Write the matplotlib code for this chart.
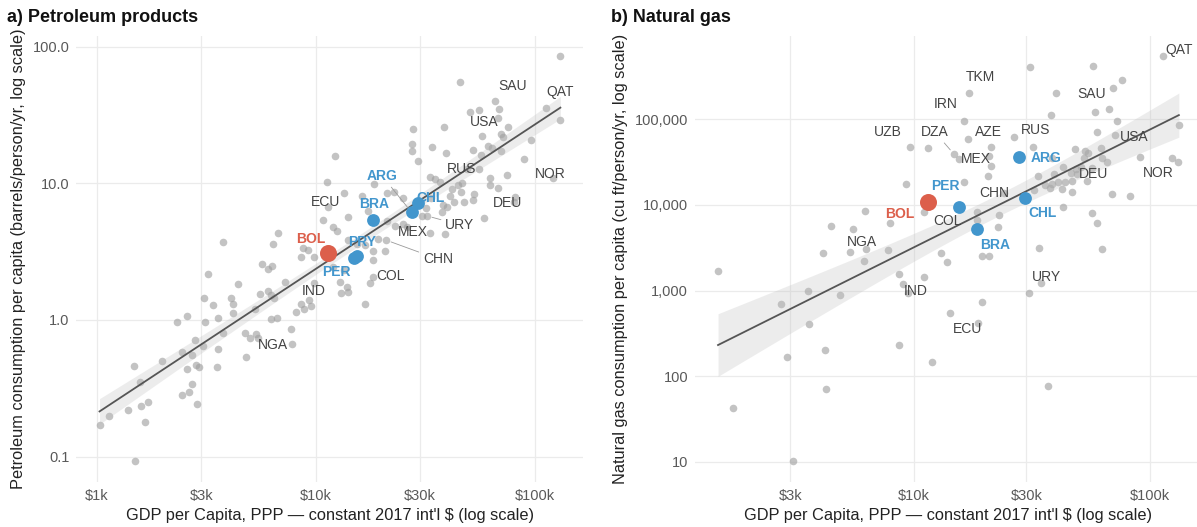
import numpy as np
import matplotlib.pyplot as plt
from matplotlib.ticker import FixedLocator, FixedFormatter, NullLocator

plt.rcParams['font.family'] = ['Liberation Sans', 'DejaVu Sans']

# ---------------- a) Petroleum products ----------------
# GDP per capita in $k (PPP, constant 2017 int'l $), consumption in barrels/person/yr
petro_gdp_k = [
    1.03, 1.14, 1.39, 1.49, 1.48, 1.58, 1.59, 1.71, 1.66, 1.98, 2.32, 2.58, 2.46, 2.59,
    2.72, 2.64, 2.44, 2.88, 2.73, 2.81, 2.84, 2.94, 3.07, 3.12, 3.10, 3.21, 3.39, 3.57,
    3.57, 3.54, 3.79, 3.79, 4.10, 4.21, 4.18, 4.43, 4.76, 4.82, 5.01, 5.34, 5.28, 5.59,
    5.70, 6.04, 6.30, 6.08, 6.25, 6.43, 6.23, 6.68, 6.75, 6.40, 7.24, 7.71, 7.82, 8.10,
    8.57, 8.87, 9.32, 9.52, 8.57, 8.78, 9.19, 9.85, 11.4, 12.0, 12.5, 12.0, 13.4, 12.9,
    13.9, 13.1, 14.0, 12.3, 11.3, 13.4, 14.1, 14.1, 15.4, 16.8, 16.2, 17.4, 18.5, 19.3,
    18.3, 20.7, 18.3, 17.7, 16.8, 21.1, 22.8, 21.1, 23.0, 25.1, 26.0, 25.0, 27.8, 27.5,
    27.5, 29.4, 30.5, 31.9, 33.3, 35.1, 36.9, 33.9, 33.5, 38.4, 39.2, 38.2, 39.7, 37.9,
    38.9, 41.0, 41.8, 42.9, 44.5, 46.4, 46.1, 47.6, 45.7, 49.1, 50.5, 52.1, 53.0, 52.3,
    55.7, 56.7, 57.3, 58.9, 61.0, 62.5, 62.5, 64.0, 67.8, 68.2, 68.9, 70.2, 71.9, 75.0,
    75.3, 80.7, 89.4, 96.2, 131, 130,
]
petro_use = [
    0.170, 0.199, 0.219, 0.0923, 0.460, 0.349, 0.236, 0.252, 0.179, 0.500, 0.960, 1.07, 0.582, 0.435,
    0.338, 0.298, 0.282, 0.243, 0.551, 0.710, 0.468, 0.452, 0.644, 0.970, 1.45, 2.17, 1.29, 1.04,
    0.610, 0.452, 0.806, 3.72, 1.45, 1.32, 1.12, 1.83, 0.798, 0.532, 0.733, 0.789, 1.20, 1.55,
    2.55, 2.36, 2.49, 1.63, 1.52, 1.45, 1.02, 1.03, 4.31, 3.59, 1.89, 0.853, 0.669, 1.15,
    1.32, 1.20, 1.40, 1.27, 2.90, 3.34, 3.28, 2.87, 6.74, 4.76, 4.50, 2.45, 2.32, 1.90,
    1.75, 1.57, 1.61, 16.0, 10.2, 8.49, 5.69, 3.85, 3.59, 3.53, 8.11, 6.27, 9.88, 3.89,
    3.21, 3.21, 2.75, 1.85, 1.31, 8.45, 8.59, 5.32, 4.89, 5.04, 4.81, 7.77, 25.1, 19.3,
    17.4, 14.6, 5.79, 6.63, 11.1, 10.8, 10.3, 18.4, 7.80, 26.0, 16.6, 6.94, 6.67, 6.20,
    4.23, 8.07, 9.08, 7.33, 9.72, 10.0, 8.68, 7.33, 54.9, 12.7, 33.3, 7.54, 8.31, 17.7,
    34.4, 16.1, 22.3, 5.54, 18.8, 10.9, 9.72, 18.3, 9.19, 29.9, 34.8, 17.3, 21.7, 11.6,
    26.0, 7.26, 15.0, 20.8, 85.9, 28.9,
]

# labelled countries (grey)
petro_lab_codes = ['SAU', 'QAT', 'USA', 'RUS', 'NOR', 'DEU', 'URY', 'MEX', 'CHN', 'COL', 'IND', 'NGA', 'ECU']
petro_lab_gdp_k = [65.9, 113, 69.9, 55.9, 121, 81.3, 32.1, 33.3, 20.9, 18.3, 9.85, 5.47, 10.8]
petro_lab_use = [40.0, 35.8, 23.0, 12.7, 10.9, 7.98, 5.79, 4.35, 3.85, 2.05, 1.85, 0.733, 5.39]

# highlighted South American countries
petro_hi_codes = ['BOL', 'ARG', 'BRA', 'CHL', 'PRY', 'PER']
petro_hi_gdp_k = [11.4, 27.4, 18.3, 29.4, 15.4, 15.0]
petro_hi_use = [3.11, 6.14, 5.39, 7.21, 2.96, 2.82]

# ---------------- b) Natural gas ----------------
# GDP per capita in $k, consumption in cu ft/person/yr
gas_gdp_k = [
    1.48, 1.72, 2.75, 2.90, 3.08, 3.57, 3.60, 4.13, 4.21, 4.23, 4.46, 4.85, 5.35, 5.53,
    6.14, 6.20, 7.76, 7.91, 8.64, 8.70, 8.96, 9.29, 11.1, 11.5, 12.0, 13.0, 13.9, 14.2,
    16.4, 17.0, 18.6, 18.6, 19.4, 20.8, 19.4, 20.7, 20.8, 21.2, 22.8, 22.9, 30.9, 31.0,
    32.1, 32.3, 33.6, 33.9, 35.9, 37.2, 37.8, 38.3, 38.4, 38.7, 39.5, 39.9, 41.0, 42.3,
    43.1, 43.1, 43.7, 46.2, 47.0, 47.0, 48.2, 48.5, 49.4, 51.0, 52.6, 53.1, 54.0, 54.9,
    57.1, 57.7, 58.4, 60.0, 60.0, 62.4, 63.0, 63.0, 65.7, 67.2, 69.5, 72.4, 76.6, 82.5,
    90.7, 132, 133,
]
gas_use = [
    1700, 42, 690, 166, 10.1, 1000, 406, 2760, 200, 70, 5720, 879, 2840, 5190,
    2230, 8420, 2970, 6100, 1560, 233, 1180, 17400, 1430, 46200, 145, 2720, 2140, 541,
    18700, 58900, 8330, 6660, 2530, 2530, 734, 21900, 37300, 28500, 5470, 7620, 943, 405000,
    47100, 14900, 21900, 3140, 17100, 76.6, 15900, 112000, 35600, 17600, 23000, 204000, 18400, 15300,
    27900, 9530, 18700, 23800, 19200, 14000, 45000, 26100, 23000, 27500, 35000, 42600, 19000, 40100,
    8110, 420000, 121000, 70500, 6200, 45800, 35000, 3050, 32000, 132000, 13400, 96300, 288000, 12700,
    36000, 32000, 85100,
]

gas_lab_codes = ['QAT', 'TKM', 'IRN', 'SAU', 'UZB', 'DZA', 'AZE', 'RUS', 'MEX', 'USA', 'NOR', 'DEU',
                 'CHN', 'COL', 'NGA', 'IND', 'URY', 'ECU']
gas_lab_gdp_k = [114, 17.1, 16.4, 70.2, 9.62, 14.8, 21.2, 26.6, 15.5, 71.1, 124, 56.7,
                 24.1, 11.1, 6.28, 9.47, 34.5, 18.8]
gas_lab_use = [553000, 204000, 96300, 234000, 47900, 39300, 47900, 62600, 34400, 65600, 35600, 26800,
               13700, 8200, 3050, 943, 1210, 414]

gas_hi_codes = ['BOL', 'PER', 'ARG', 'CHL', 'BRA']
gas_hi_gdp_k = [11.5, 15.5, 27.9, 29.6, 18.6]
gas_hi_use = [10900, 9530, 36000, 11900, 5230]

# label offsets from their point, in pixels (x right, y up)
petro_offsets = {
    'SAU': (18, 15), 'QAT': (14, 16), 'USA': (-16, 12), 'RUS': (-18, 0), 'NOR': (-3, 4),
    'DEU': (-7, -6), 'URY': (33, -9), 'MEX': (-17, 1), 'CHN': (52, -19), 'COL': (17, 1),
    'IND': (-1, -8), 'NGA': (15, -7), 'ECU': (3, 18), 'BOL': (-17, 14), 'ARG': (-29, 36),
    'BRA': (1, 16), 'CHL': (12, 5), 'PRY': (5, 14), 'PER': (-18, -14),
}
gas_offsets = {
    'QAT': (16, 6), 'TKM': (12, 16), 'IRN': (-19, 17), 'SAU': (-22, -6), 'UZB': (-22, 15),
    'DZA': (-19, 22), 'AZE': (-2, 15), 'RUS': (22, 7), 'MEX': (17, 0), 'USA': (19, -2),
    'NOR': (-13, -15), 'DEU': (2, -6), 'CHN': (-10, 0), 'COL': (23, -9), 'NGA': (-4, 7),
    'IND': (8, 2), 'URY': (6, 6), 'ECU': (-11, -6), 'BOL': (-28, -12), 'PER': (-13, 21),
    'ARG': (27, -1), 'CHL': (18, -15), 'BRA': (18, -16),
}
petro_leaders = ['ARG', 'URY', 'CHN']
gas_leaders = ['DZA']

BLUE = '#4296cd'
RED = '#dc5f4b'
hi_colors = {'BOL': RED}


def draw_panel(ax, gdp_k, vals, lab_codes, lab_gdp_k, lab_vals, hi_codes, hi_gdp_k, hi_vals,
               offsets, leaders, yticks, ylabels, ylabel, title, title_x):
    gx = np.array(gdp_k + lab_gdp_k + hi_gdp_k) * 1000
    gy = np.array(vals + lab_vals + hi_vals, dtype=float)
    lx, ly = np.log10(gx), np.log10(gy)

    ax.set_xscale('log')
    ax.set_yscale('log')

    # limits with 5% padding in log space
    xr, yr = lx.max() - lx.min(), ly.max() - ly.min()
    ax.set_xlim(10 ** (lx.min() - 0.05 * xr), 10 ** (lx.max() + 0.05 * xr))
    ax.set_ylim(10 ** (ly.min() - 0.05 * yr), 10 ** (ly.max() + 0.05 * yr))

    # all non-highlighted countries
    ox = np.array(gdp_k + lab_gdp_k) * 1000
    oy = np.array(vals + lab_vals, dtype=float)
    ax.scatter(ox, oy, s=30, color='#9e9e9e', alpha=0.62, linewidths=0, zorder=2)

    # log-log linear fit with 95% band
    n = len(lx)
    slope, icpt = np.polyfit(lx, ly, 1)
    resid = ly - (slope * lx + icpt)
    s = np.sqrt(np.sum(resid ** 2) / (n - 2))
    xm = lx.mean()
    sxx = np.sum((lx - xm) ** 2)
    xs = np.linspace(lx.min(), lx.max(), 200)
    fit = slope * xs + icpt
    se = s * np.sqrt(1.0 / n + (xs - xm) ** 2 / sxx)
    ax.fill_between(10 ** xs, 10 ** (fit - 1.98 * se), 10 ** (fit + 1.98 * se),
                    color='#bdbdbd', alpha=0.28, linewidth=0, zorder=3)
    ax.plot(10 ** xs, 10 ** fit, color='#555555', lw=1.3, zorder=4)

    # highlighted countries
    for c, x, y in zip(hi_codes, hi_gdp_k, hi_vals):
        col = hi_colors.get(c, BLUE)
        size = 150 if c == 'BOL' else 85
        ax.scatter([x * 1000], [y], s=size, color=col, linewidths=0, zorder=6)

    # country labels
    for c, x, y in zip(lab_codes + hi_codes, lab_gdp_k + hi_gdp_k, lab_vals + hi_vals):
        dx, dy = offsets[c]
        if c in hi_codes:
            col = hi_colors.get(c, BLUE)
            weight = 'bold'
        else:
            col = '#444444'
            weight = 'normal'
        arrow = None
        if c in leaders:
            arrow = dict(arrowstyle='-', color='#9a9a9a', lw=0.6, shrinkA=1, shrinkB=4)
        ax.annotate(c, (x * 1000, y), xytext=(dx, dy), textcoords='offset pixels',
                    ha='center', va='center', fontsize=10, color=col, fontweight=weight,
                    arrowprops=arrow, zorder=7)

    # axes styling
    xt = [1000, 3000, 10000, 30000, 100000]
    ax.xaxis.set_major_locator(FixedLocator(xt))
    ax.xaxis.set_major_formatter(FixedFormatter(['$1k', '$3k', '$10k', '$30k', '$100k']))
    ax.yaxis.set_major_locator(FixedLocator(yticks))
    ax.yaxis.set_major_formatter(FixedFormatter(ylabels))
    ax.xaxis.set_minor_locator(NullLocator())
    ax.yaxis.set_minor_locator(NullLocator())
    ax.grid(True, which='major', color='#ebebeb', lw=0.9)
    ax.set_axisbelow(True)
    for sp in ax.spines.values():
        sp.set_visible(False)
    ax.tick_params(length=0, labelsize=10.5, labelcolor='#595959', pad=5)
    ax.set_xlabel("GDP per Capita, PPP \u2014 constant 2017 int'l $ (log scale)",
                  fontsize=11.8, color='#222222', labelpad=4)
    ax.set_ylabel(ylabel, fontsize=11.8, color='#222222', labelpad=5)
    ax.set_title(title, loc='left', fontsize=13, fontweight='bold', color='#111111',
                 x=title_x, y=1.012)


fig = plt.figure(figsize=(11.97, 5.27), dpi=100)
ax1 = fig.add_axes([0.0639, 0.0861, 0.4235, 0.8465])
ax2 = fig.add_axes([0.5806, 0.0861, 0.4235, 0.8465])

draw_panel(ax1, petro_gdp_k, petro_use, petro_lab_codes, petro_lab_gdp_k, petro_lab_use,
           petro_hi_codes, petro_hi_gdp_k, petro_hi_use, petro_offsets, petro_leaders,
           [0.1, 1, 10, 100], ['0.1', '1.0', '10.0', '100.0'],
           'Petroleum consumption per capita (barrels/person/yr, log scale)',
           'a) Petroleum products', -0.137)

draw_panel(ax2, gas_gdp_k, gas_use, gas_lab_codes, gas_lab_gdp_k, gas_lab_use,
           gas_hi_codes, gas_hi_gdp_k, gas_hi_use, gas_offsets, gas_leaders,
           [10, 100, 1000, 10000, 100000], ['10', '100', '1,000', '10,000', '100,000'],
           'Natural gas consumption per capita (cu ft/person/yr, log scale)',
           'b) Natural gas', -0.165)

fig.savefig('out.png', dpi=100)
